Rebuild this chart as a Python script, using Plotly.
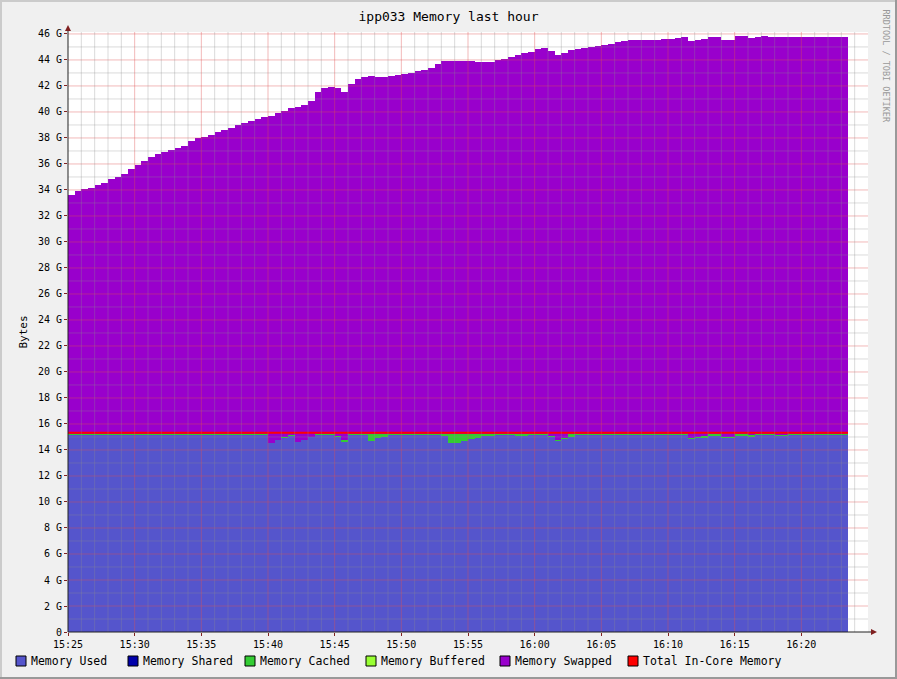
import pandas as pd
import plotly.graph_objects as go

# One value per 30 s step, starting at 15:25:00. All values in GB.
# top of the stacked areas (used + shared + cached + buffered + swapped)
memory_top = [
    33.64, 33.90, 34.10, 34.18, 34.38, 34.54, 34.85, 35.03, 35.23, 35.62,
    35.90, 36.23, 36.50, 36.80, 36.95, 37.05, 37.26, 37.41, 37.80, 37.97,
    38.08, 38.23, 38.49, 38.62, 38.79, 39.00, 39.15, 39.30, 39.44, 39.62,
    39.67, 39.90, 40.08, 40.28, 40.41, 40.51, 40.82, 41.56, 41.82, 41.95,
    41.87, 41.51, 42.13, 42.51, 42.67, 42.74, 42.72, 42.72, 42.74, 42.87,
    42.95, 43.02, 43.15, 43.23, 43.41, 43.69, 43.95, 43.92, 43.92, 43.92,
    43.92, 43.87, 43.87, 43.87, 43.97, 44.10, 44.20, 44.36, 44.51, 44.64,
    44.85, 44.90, 44.72, 44.38, 44.56, 44.74, 44.82, 44.90, 45.00, 45.10,
    45.18, 45.25, 45.36, 45.44, 45.51, 45.51, 45.51, 45.51, 45.54, 45.60,
    45.64, 45.69, 45.74, 45.46, 45.56, 45.62, 45.77, 45.77, 45.56, 45.56,
    45.82, 45.82, 45.72, 45.77, 45.82, 45.77, 45.74, 45.74, 45.74, 45.79,
    45.79, 45.79, 45.77, 45.77, 45.77, 45.79, 45.79,
]

memory_used = [
    15.20, 15.20, 15.20, 15.20, 15.20, 15.20, 15.20, 15.20, 15.20, 15.20,
    15.20, 15.20, 15.20, 15.20, 15.20, 15.20, 15.20, 15.20, 15.20, 15.20,
    15.20, 15.20, 15.20, 15.20, 15.20, 15.20, 15.20, 15.20, 15.20, 15.20,
    14.56, 14.77, 14.98, 15.15, 14.62, 14.77, 15.03, 15.20, 15.20, 15.20,
    15.05, 14.67, 15.20, 15.20, 15.20, 14.72, 14.90, 15.03, 15.20, 15.20,
    15.20, 15.20, 15.20, 15.20, 15.20, 15.20, 15.08, 14.56, 14.56, 14.67,
    14.82, 14.90, 15.05, 15.15, 15.20, 15.20, 15.20, 15.08, 15.08, 15.20,
    15.20, 15.20, 15.05, 14.72, 14.90, 15.03, 15.18, 15.20, 15.20, 15.20,
    15.20, 15.20, 15.20, 15.20, 15.20, 15.20, 15.20, 15.20, 15.20, 15.20,
    15.20, 15.20, 15.20, 14.90, 14.93, 14.97, 15.13, 15.13, 14.97, 14.97,
    15.15, 15.15, 15.03, 15.18, 15.18, 15.20, 15.13, 15.13, 15.20, 15.20,
    15.20, 15.20, 15.20, 15.20, 15.20, 15.20, 15.20,
]

memory_cached = [
    0.01, 0.01, 0.01, 0.01, 0.01, 0.01, 0.01, 0.01, 0.01, 0.01,
    0.01, 0.01, 0.01, 0.01, 0.01, 0.01, 0.01, 0.01, 0.01, 0.01,
    0.01, 0.01, 0.01, 0.01, 0.01, 0.01, 0.01, 0.01, 0.01, 0.01,
    0.01, 0.02, 0.03, 0.03, 0.00, 0.00, 0.00, 0.02, 0.02, 0.02,
    0.02, 0.10, 0.01, 0.01, 0.01, 0.50, 0.32, 0.19, 0.01, 0.01,
    0.01, 0.01, 0.01, 0.01, 0.01, 0.01, 0.14, 0.64, 0.64, 0.53,
    0.39, 0.31, 0.16, 0.07, 0.02, 0.02, 0.02, 0.13, 0.13, 0.01,
    0.01, 0.01, 0.04, 0.01, 0.03, 0.19, 0.04, 0.01, 0.01, 0.01,
    0.01, 0.01, 0.01, 0.01, 0.01, 0.01, 0.01, 0.01, 0.01, 0.01,
    0.01, 0.01, 0.01, 0.01, 0.10, 0.11, 0.10, 0.10, 0.06, 0.06,
    0.08, 0.08, 0.14, 0.05, 0.05, 0.01, 0.01, 0.01, 0.01, 0.01,
    0.01, 0.01, 0.01, 0.01, 0.01, 0.01, 0.01,
]

memory_shared = [0.0] * len(memory_used)
memory_buffered = [0.0] * len(memory_used)
total_in_core = [15.32] * len(memory_used)

memory_swapped = [t - u - s - c - b for t, u, s, c, b in
                  zip(memory_top, memory_used, memory_shared, memory_cached, memory_buffered)]

y_ticks = list(range(0, 47, 2))
y_labels = ['0'] + [f'{v} G' for v in y_ticks[1:]]

series = [
    ('Memory Used', memory_used, '#5555CC'),
    ('Memory Shared', memory_shared, '#0000AA'),
    ('Memory Cached', memory_cached, '#33CC33'),
    ('Memory Buffered', memory_buffered, '#99FF33'),
    ('Memory Swapped', memory_swapped, '#9900CC'),
]
legend_items = [(name, color) for name, _, color in series] + [('Total In-Core Memory', '#FF0000')]

FONT = 'DejaVu Sans Mono'

start = pd.Timestamp('2010-01-01 15:25:00')
end = pd.Timestamp('2010-01-01 16:25:00')
step = pd.Timedelta(seconds=30)
times = [start + i * step for i in range(len(memory_used))]
centers = [t + step / 2 for t in times]
x_ticks = [start + pd.Timedelta(minutes=m) for m in range(0, 60, 5)]

fig = go.Figure()
for name, vals, color in series:
    fig.add_trace(go.Bar(
        x=centers, y=vals, width=30000, name=name, showlegend=False,
        marker=dict(color=color, line=dict(width=0)),
    ))

fig.add_trace(go.Scatter(
    x=times + [times[-1] + step], y=total_in_core + [total_in_core[-1]],
    mode='lines', line=dict(color='#FF0000', width=2, shape='hv'),
    name='Total In-Core Memory', showlegend=False,
))

# plot area in pixels: x 68..868, y 32..632
def px(x):
    return (x - 68) / 800


def py(y):
    return (632 - y) / 600


MAJOR = 'rgba(222,79,79,0.4)'
MINOR = 'rgba(143,143,143,0.32)'

shapes = []
# grid drawn on top of the areas, like rrdtool does
for v in range(1, 47):
    shapes.append(dict(type='line', xref='paper', yref='y', x0=0, x1=1, y0=v, y1=v,
                       layer='above', line=dict(color=MAJOR if v % 2 == 0 else MINOR, width=1)))
for m in range(1, 60):
    t = start + pd.Timedelta(minutes=m)
    shapes.append(dict(type='line', xref='x', yref='paper', x0=t, x1=t, y0=0, y1=1,
                       layer='above', line=dict(color=MAJOR if m % 5 == 0 else MINOR, width=1)))

# axes with arrows
shapes.append(dict(type='line', xref='paper', yref='paper', x0=0, x1=0, y0=py(632), y1=py(28),
                   line=dict(color='#222222', width=1), layer='above'))
shapes.append(dict(type='line', xref='paper', yref='paper', x0=px(68), x1=px(874), y0=0, y1=0,
                   line=dict(color='#222222', width=1), layer='above'))
shapes.append(dict(type='path', xref='paper', yref='paper',
                   path=f'M {px(65)} {py(31)} L {px(71)} {py(31)} L {px(68)} {py(25)} Z',
                   fillcolor='#802020', line=dict(width=0), layer='above'))
shapes.append(dict(type='path', xref='paper', yref='paper',
                   path=f'M {px(871)} {py(629)} L {px(871)} {py(635)} L {px(877)} {py(632)} Z',
                   fillcolor='#802020', line=dict(width=0), layer='above'))

# image border
shapes.append(dict(type='line', xref='paper', yref='paper', x0=px(0), x1=px(897), y0=py(1), y1=py(1),
                   line=dict(color='#CBCBCB', width=2)))
shapes.append(dict(type='line', xref='paper', yref='paper', x0=px(1), x1=px(1), y0=py(0), y1=py(679),
                   line=dict(color='#CBCBCB', width=2)))
shapes.append(dict(type='line', xref='paper', yref='paper', x0=px(0), x1=px(897), y0=py(678), y1=py(678),
                   line=dict(color='#999999', width=2)))
shapes.append(dict(type='line', xref='paper', yref='paper', x0=px(896), x1=px(896), y0=py(0), y1=py(679),
                   line=dict(color='#999999', width=2)))

annotations = [
    dict(text='Bytes', xref='paper', yref='paper', x=px(14), y=py(332), showarrow=False,
         textangle=-90, font=dict(family=FONT, size=11, color='#000000')),
    dict(text='RRDTOOL / TOBI OETIKER', xref='paper', yref='paper', x=px(885), y=py(7),
         xanchor='center', yanchor='top', showarrow=False, textangle=90,
         font=dict(family=FONT, size=8.5, color='#999999')),
]

# legend drawn by hand, rrdtool style
legend_x = [16, 128, 245, 366, 500, 628]
for (name, color), lx in zip(legend_items, legend_x):
    shapes.append(dict(type='rect', xref='paper', yref='paper',
                       x0=px(lx), x1=px(lx + 10), y0=py(656), y1=py(666),
                       fillcolor=color, line=dict(color='#000000', width=1)))
    annotations.append(dict(text=name, xref='paper', yref='paper', x=px(lx + 13), y=py(661),
                            xanchor='left', yanchor='middle', showarrow=False,
                            font=dict(family=FONT, size=11.5, color='#000000')))

fig.update_layout(
    width=897, height=679,
    margin=dict(l=68, r=29, t=32, b=47, pad=0),
    paper_bgcolor='#F0F0F0', plot_bgcolor='#FFFFFF',
    barmode='stack', bargap=0,
    showlegend=False,
    title=dict(text='ipp033 Memory last hour', x=0.5, xref='container', xanchor='center',
               y=1 - 16 / 679, yref='container', yanchor='middle',
               font=dict(family=FONT, size=13, color='#000000')),
    xaxis=dict(range=[start, end], type='date', tickformat='%H:%M', tickvals=x_ticks,
               showgrid=False, zeroline=False, showline=False, automargin=False,
               ticks='outside', ticklen=3, tickcolor='#802020',
               tickfont=dict(family=FONT, size=10, color='#000000')),
    yaxis=dict(range=[0, 46.15], tickvals=y_ticks, ticktext=y_labels,
               showgrid=False, zeroline=False, showline=False, automargin=False,
               ticks='outside', ticklen=3, tickcolor='#802020',
               tickfont=dict(family=FONT, size=10, color='#000000')),
    shapes=shapes,
    annotations=annotations,
)

# the page's default body margin would shift the chart by 8 px
fig.write_html('out.html', config={'displayModeBar': False},
               post_script="document.body.style.margin = '0';")
